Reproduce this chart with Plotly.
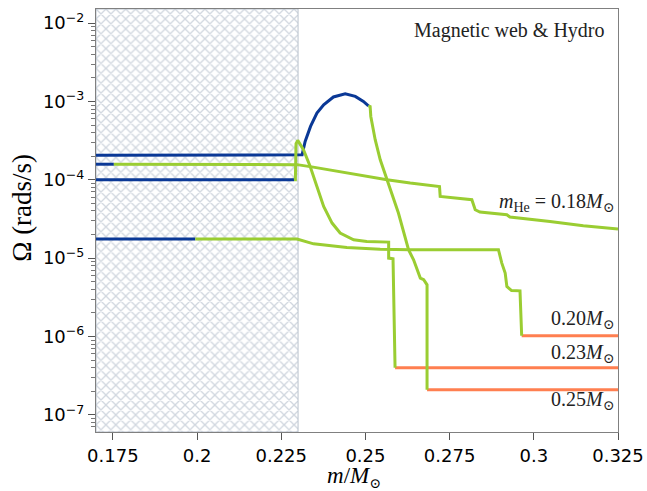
import plotly.graph_objects as go

# ---------------- data ----------------
# model 0.25 Msun
x025_blue = [0.170, 0.2300, 0.2312, 0.2321, 0.2337, 0.2356, 0.2376, 0.2405, 0.2440, 0.2470, 0.2494, 0.2509]
y025_blue = [2.05e-4, 2.05e-4, 2.08e-4, 3.08e-4, 4.80e-4, 7.11e-4, 9.08e-4, 1.14e-3, 1.25e-3, 1.16e-3, 1.00e-3, 8.80e-4]
x025_green = [0.2509, 0.2514, 0.2516, 0.2529, 0.2544, 0.2564, 0.2573, 0.2598, 0.2628, 0.2633, 0.2643, 0.2663, 0.2673, 0.2683, 0.2683]
y025_green = [8.80e-4, 8.63e-4, 6.43e-4, 3.25e-4, 1.80e-4, 1.00e-4, 7.45e-5, 3.76e-5, 1.28e-5, 1.16e-5, 9.5e-6, 5.55e-6, 5.29e-6, 4.56e-6, 2.08e-7]
x025_orange = [0.2683, 0.325]
y025_orange = [2.08e-7, 2.08e-7]

# model 0.23 Msun
x023_blue = [0.170, 0.2288]
y023_blue = [1.0e-4, 1.0e-4]
x023_green = [0.2288, 0.2292, 0.2294, 0.2299, 0.2316, 0.2336, 0.2356, 0.2376, 0.2401, 0.2425, 0.2465, 0.2504, 0.2569,
              0.2569, 0.2582, 0.2584, 0.2588]
y023_green = [1.0e-4, 1.0e-4, 2.9e-4, 3.18e-4, 2.42e-4, 1.48e-4, 8.2e-5, 4.56e-5, 2.80e-5, 2.09e-5, 1.71e-5, 1.63e-5, 1.60e-5,
              1.0e-5, 9.8e-6, 4.0e-6, 3.98e-7]
x023_orange = [0.2588, 0.325]
y023_orange = [3.98e-7, 3.98e-7]

# model 0.20 Msun
x020_blue = [0.170, 0.1995]
y020_blue = [1.75e-5, 1.75e-5]
x020_green = [0.1995, 0.2297, 0.2346, 0.2445, 0.2544, 0.2633, 0.2895, 0.2905, 0.2915, 0.2920, 0.2934, 0.2959, 0.2964]
y020_green = [1.75e-5, 1.75e-5, 1.52e-5, 1.37e-5, 1.30e-5, 1.28e-5, 1.28e-5, 8.63e-6, 6.43e-6, 4.34e-6, 3.85e-6, 3.82e-6, 1.02e-6]
x020_orange = [0.2964, 0.325]
y020_orange = [1.02e-6, 1.02e-6]

# model 0.18 Msun
x018_blue = [0.170, 0.1753]
y018_blue = [1.58e-4, 1.58e-4]
x018_green = [0.1753, 0.2297, 0.2345, 0.2445, 0.2543, 0.2564, 0.2633, 0.2712, 0.2720, 0.2722, 0.2816, 0.2826, 0.2840,
              0.2920, 0.2929, 0.3048, 0.3147, 0.325]
y018_green = [1.58e-4, 1.56e-4, 1.45e-4, 1.22e-4, 1.02e-4, 1.00e-4, 9.08e-5, 8.3e-5, 8.2e-5, 6.12e-5, 5.56e-5, 4.14e-5, 3.87e-5,
              3.57e-5, 3.34e-5, 2.93e-5, 2.59e-5, 2.35e-5]

# hatched (excluded) region and axes
hatch_x = [0.17, 0.23]
x_range = [0.17, 0.325]
y_log_range = [-7.22, -1.82]
x_tickvals = [0.175, 0.2, 0.225, 0.25, 0.275, 0.3, 0.325]
x_ticktext = ["0.175", "0.2", "0.225", "0.25", "0.275", "0.3", "0.325"]
y_tickvals = [1e-7, 1e-6, 1e-5, 1e-4, 1e-3, 1e-2]
y_ticktext = ["10<sup>\u22127</sup>", "10<sup>\u22126</sup>", "10<sup>\u22125</sup>",
              "10<sup>\u22124</sup>", "10<sup>\u22123</sup>", "10<sup>\u22122</sup>"]
minor_decades = [1e-8, 1e-7, 1e-6, 1e-5, 1e-4, 1e-3, 1e-2]
minor_digits = [2, 3, 4, 5, 6, 7, 8, 9]
y_minor_vals = [d * m for d in minor_decades for m in minor_digits]

BLUE = "#0a3896"
GREEN = "#9acd32"
ORANGE = "#ff7f50"
SERIF = "Liberation Serif, DejaVu Serif, serif"
SANS = "DejaVu Sans, sans-serif"

fig = go.Figure()

# hatched region
y_lo, y_hi = 10 ** y_log_range[0], 10 ** y_log_range[1]
fig.add_trace(go.Scatter(
    x=[hatch_x[0], hatch_x[1], hatch_x[1], hatch_x[0], hatch_x[0]],
    y=[y_lo, y_lo, y_hi, y_hi, y_lo],
    fill="toself", mode="lines",
    line=dict(color="#b8c1cd", width=1),
    fillcolor="rgba(0,0,0,0)",
    fillpattern=dict(shape="x", size=7, solidity=0.35, fgcolor="#a3afc0", bgcolor="white"),
    hoverinfo="skip", showlegend=False,
))

def add_line(x, y, color, width=3):
    fig.add_trace(go.Scatter(x=x, y=y, mode="lines", line=dict(color=color, width=width),
                             showlegend=False))

add_line(x025_blue, y025_blue, BLUE, 3)
add_line(x023_blue, y023_blue, BLUE, 3)
add_line(x020_blue, y020_blue, BLUE, 3)
add_line(x018_blue, y018_blue, BLUE, 3)
add_line(x025_orange, y025_orange, ORANGE, 3)
add_line(x023_orange, y023_orange, ORANGE, 3)
add_line(x020_orange, y020_orange, ORANGE, 3)
add_line(x025_green, y025_green, GREEN, 3)
add_line(x023_green, y023_green, GREEN, 3)
add_line(x020_green, y020_green, GREEN, 3)
add_line(x018_green, y018_green, GREEN, 3)

ann_font = dict(family=SERIF, size=20, color="#222222")
annotations = [
    dict(text="Magnetic web &amp; Hydro", xref="paper", yref="paper", x=0.978, y=0.95,
         xanchor="right", yanchor="middle", showarrow=False, font=ann_font),
    dict(text="<i>m</i><sub>He</sub> = 0.18<i>M</i><sub>\u2299</sub>", xref="paper", yref="y", x=0.996, y=-4.29,
         xanchor="right", yanchor="middle", showarrow=False, font=ann_font),
    dict(text="0.20<i>M</i><sub>\u2299</sub>", xref="paper", yref="y", x=0.996, y=-5.79,
         xanchor="right", yanchor="middle", showarrow=False, font=ann_font),
    dict(text="0.23<i>M</i><sub>\u2299</sub>", xref="paper", yref="y", x=0.996, y=-6.22,
         xanchor="right", yanchor="middle", showarrow=False, font=ann_font),
    dict(text="0.25<i>M</i><sub>\u2299</sub>", xref="paper", yref="y", x=0.996, y=-6.82,
         xanchor="right", yanchor="middle", showarrow=False, font=ann_font),
    # axis titles
    dict(text="<i>m</i>/<i>M</i><sub><span style='font-size:14px'>\u2299</span></sub>", xref="paper", yref="paper",
         x=0.494, y=-0.106,
         xanchor="center", yanchor="middle", showarrow=False, font=dict(family=SERIF, size=23, color="black")),
    dict(text="\u03a9 (rads/s)", xref="paper", yref="paper", x=-0.142, y=0.53, textangle=-90,
         xanchor="center", yanchor="middle", showarrow=False, font=dict(family=SERIF, size=27, color="black")),
]

fig.update_layout(
    width=647, height=491,
    margin=dict(l=96, r=29, t=9, b=59),
    plot_bgcolor="white", paper_bgcolor="white",
    showlegend=False,
    annotations=annotations,
    xaxis=dict(
        range=x_range, tickvals=x_tickvals, ticktext=x_ticktext, automargin=False,
        showgrid=False, zeroline=False,
        showline=True, linecolor="#808080", linewidth=1, mirror=True,
        ticks="outside", ticklen=7, tickcolor="#555555",
        tickfont=dict(family=SANS, size=18, color="black"),
    ),
    yaxis=dict(
        type="log", range=y_log_range, tickvals=y_tickvals, ticktext=y_ticktext, automargin=False,
        showgrid=False, zeroline=False,
        showline=True, linecolor="#808080", linewidth=1, mirror=True,
        ticks="outside", ticklen=7, tickcolor="#555555",
        tickfont=dict(family=SANS, size=18, color="black"),
        minor=dict(ticks="outside", ticklen=4, tickcolor="#777777", tickvals=y_minor_vals, showgrid=False),
    ),
)

fig.write_html("out.html", config={"displayModeBar": False},
               post_script="document.body.style.margin='0';document.body.style.overflow='hidden';")
